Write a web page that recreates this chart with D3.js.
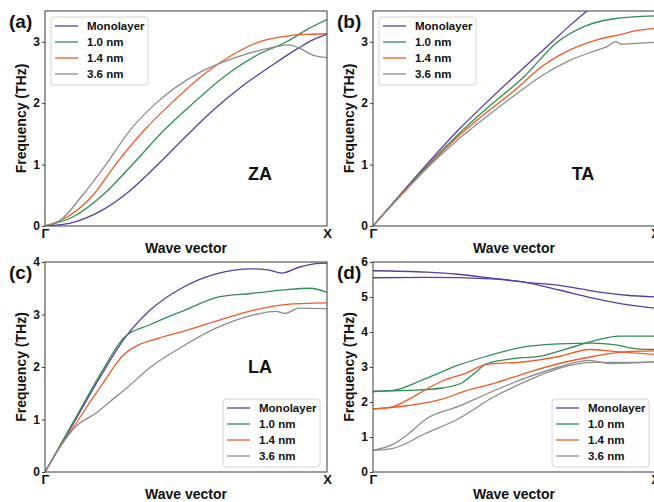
<!DOCTYPE html>
<html>
<head>
<meta charset="utf-8">
<script src="https://cdn.jsdelivr.net/npm/d3@7"></script>
<style>
  html, body { margin: 0; padding: 0; background: #fff; }
  svg { display: block; font-family: "Liberation Sans", Arial, sans-serif; }
</style>
</head>
<body>
<svg id="fig" width="654" height="502"></svg>
<script>
// Phonon dispersion of acoustic / low optical branches along Γ–X
const seriesNames = ["Monolayer", "1.0 nm", "1.4 nm", "3.6 nm"];
const seriesColors = ["#5b3c9f", "#2f8e50", "#f05a28", "#8c8c8c"];
const kLabels = ["Γ", "X"];

// (a) ZA branch: [q, frequency THz]
const zaMono = [[0,0],[0.1,0.06],[0.2,0.25],[0.3,0.57],[0.4,1.0],[0.5,1.46],[0.6,1.9],[0.7,2.28],[0.8,2.6],[0.9,2.9],[0.95,3.03],[1,3.12]];
const za10   = [[0,0],[0.1,0.15],[0.204,0.5],[0.31,1.0],[0.42,1.55],[0.525,2.0],[0.655,2.5],[0.76,2.8],[0.857,3.0],[0.93,3.2],[1,3.36]];
const za14   = [[0,0],[0.08,0.15],[0.17,0.5],[0.25,1.0],[0.35,1.55],[0.448,2.0],[0.572,2.5],[0.67,2.8],[0.762,3.0],[0.87,3.1],[0.93,3.12],[1,3.13]];
const za36   = [[0,0],[0.05,0.08],[0.133,0.5],[0.216,1.0],[0.3,1.55],[0.394,2.0],[0.549,2.5],[0.68,2.75],[0.8,2.9],[0.865,2.95],[0.9,2.9],[0.95,2.78],[1,2.74]];

// (b) TA branch
const taMono = [[0,0],[0.1,0.53],[0.2,1.05],[0.3,1.55],[0.4,2.0],[0.5,2.43],[0.6,2.85],[0.7,3.27],[0.8,3.66]];
const ta10   = [[0,0],[0.1,0.52],[0.2,1.02],[0.3,1.48],[0.4,1.9],[0.54,2.45],[0.65,2.98],[0.75,3.25],[0.85,3.37],[1,3.42]];
const ta14   = [[0,0],[0.1,0.51],[0.2,1.0],[0.3,1.45],[0.4,1.84],[0.5,2.2],[0.6,2.6],[0.7,2.87],[0.8,3.04],[0.88,3.12],[0.92,3.17],[1,3.22]];
const ta36   = [[0,0],[0.1,0.5],[0.2,0.98],[0.3,1.4],[0.4,1.77],[0.5,2.12],[0.6,2.45],[0.7,2.7],[0.8,2.87],[0.83,2.92],[0.86,3.0],[0.88,2.96],[0.92,2.97],[1,2.99]];

// (c) LA branch
const laMono = [[0,0],[0.1,0.92],[0.2,1.85],[0.28,2.53],[0.37,3.07],[0.49,3.52],[0.61,3.78],[0.73,3.87],[0.79,3.85],[0.84,3.79],[0.9,3.9],[0.96,3.97],[1,3.98]];
const la10   = [[0,0],[0.1,0.95],[0.2,1.9],[0.28,2.56],[0.37,2.8],[0.49,3.07],[0.62,3.34],[0.73,3.4],[0.85,3.47],[0.94,3.5],[1,3.42]];
const la14   = [[0,0],[0.05,0.45],[0.1,0.85],[0.2,1.65],[0.28,2.24],[0.41,2.56],[0.49,2.68],[0.61,2.88],[0.73,3.07],[0.85,3.19],[1,3.22]];
const la36   = [[0,0],[0.05,0.45],[0.11,0.87],[0.18,1.12],[0.23,1.34],[0.29,1.6],[0.37,1.98],[0.49,2.4],[0.61,2.75],[0.73,2.98],[0.82,3.06],[0.85,3.02],[0.9,3.12],[1,3.11]];

// (d) low-lying optical branches, two per structure
const opMonoA = [[0,5.75],[0.19,5.71],[0.3,5.65],[0.42,5.54],[0.54,5.42],[0.66,5.2],[0.78,4.97],[0.9,4.78],[1,4.68]];
const opMonoB = [[0,5.55],[0.19,5.56],[0.42,5.52],[0.54,5.42],[0.66,5.33],[0.78,5.17],[0.9,5.05],[1,5.0]];
const op10A   = [[0,2.3],[0.07,2.33],[0.186,2.67],[0.305,3.06],[0.4,3.3],[0.54,3.58],[0.66,3.66],[0.78,3.68],[0.86,3.63],[0.944,3.51],[1,3.5]];
const op10B   = [[0,2.3],[0.127,2.33],[0.245,2.4],[0.316,2.55],[0.364,2.85],[0.4,3.08],[0.48,3.22],[0.6,3.32],[0.72,3.6],[0.8,3.78],[0.87,3.88],[1,3.88]];
const op14A   = [[0,1.8],[0.068,1.86],[0.127,2.08],[0.186,2.35],[0.245,2.6],[0.328,2.82],[0.4,3.07],[0.54,3.15],[0.66,3.3],[0.767,3.5],[0.86,3.44],[1,3.36]];
const op14B   = [[0,1.8],[0.127,1.9],[0.245,2.08],[0.328,2.32],[0.423,2.52],[0.54,2.82],[0.66,3.1],[0.78,3.3],[0.9,3.44],[1,3.46]];
const op36A   = [[0,0.62],[0.068,0.78],[0.127,1.1],[0.186,1.5],[0.305,1.88],[0.423,2.3],[0.54,2.68],[0.66,3.0],[0.767,3.19],[0.84,3.1],[1,3.15]];
const op36B   = [[0,0.62],[0.068,0.67],[0.186,1.1],[0.305,1.53],[0.423,2.12],[0.54,2.58],[0.66,2.96],[0.78,3.13],[0.9,3.13],[1,3.15]];

const panels = [
  { tag: "(a)", mode: "ZA", yMax: 3.5, yTicks: [0,1,2,3], legend: "top-left",
    curves: [[zaMono,0],[za10,1],[za14,2],[za36,3]],
    box: { left: 45, right: 327, top: 11, bottom: 226 }, modePos: [260, 180] },
  { tag: "(b)", mode: "TA", yMax: 3.5, yTicks: [0,1,2,3], legend: "top-left",
    curves: [[taMono,0],[ta10,1],[ta14,2],[ta36,3]],
    box: { left: 373, right: 655, top: 11, bottom: 226 }, modePos: [583, 180] },
  { tag: "(c)", mode: "LA", yMax: 4, yTicks: [0,1,2,3,4], legend: "bottom-right",
    curves: [[laMono,0],[la10,1],[la14,2],[la36,3]],
    box: { left: 45, right: 327, top: 262, bottom: 472 }, modePos: [260, 373] },
  { tag: "(d)", mode: "", yMax: 6, yTicks: [0,1,2,3,4,5,6], legend: "bottom-right",
    curves: [[opMonoA,0],[opMonoB,0],[op10A,1],[op10B,1],[op14A,2],[op14B,2],[op36A,3],[op36B,3]],
    box: { left: 373, right: 655, top: 262, bottom: 472 }, modePos: [0, 0] }
];

const svg = d3.select("#fig");
const axisColor = "#3a3a3a";

panels.forEach((p, i) => {
  const b = p.box;
  const x = d3.scaleLinear().domain([0, 1]).range([b.left, b.right]);
  const y = d3.scaleLinear().domain([0, p.yMax]).range([b.bottom, b.top]);
  const g = svg.append("g");

  const clipId = "clip" + i;
  g.append("clipPath").attr("id", clipId)
    .append("rect").attr("x", b.left).attr("y", b.top)
    .attr("width", b.right - b.left).attr("height", b.bottom - b.top);

  const line = d3.line().x(d => x(d[0])).y(d => y(d[1])).curve(d3.curveMonotoneX);
  const lines = g.append("g").attr("clip-path", `url(#${clipId})`);
  p.curves.forEach(([data, s]) => {
    lines.append("path").attr("d", line(data))
      .attr("fill", "none").attr("stroke", seriesColors[s]).attr("stroke-width", 1.3);
  });

  // frame
  g.append("rect").attr("x", b.left).attr("y", b.top)
    .attr("width", b.right - b.left).attr("height", b.bottom - b.top)
    .attr("fill", "none").attr("stroke", axisColor).attr("stroke-width", 1);

  // y axis
  const yAxis = g.append("g").attr("transform", `translate(${b.left},0)`)
    .call(d3.axisLeft(y).tickValues(p.yTicks).tickFormat(d3.format("d")).tickSize(3).tickPadding(2));
  yAxis.select(".domain").remove();
  yAxis.selectAll("line").attr("stroke", axisColor);
  yAxis.selectAll("text").attr("font-size", 12).attr("font-weight", "bold")
    .attr("fill", "#111").attr("font-family", "Liberation Sans, Arial, sans-serif");

  // x axis: Γ and X
  const xAxis = g.append("g").attr("transform", `translate(0,${b.bottom})`)
    .call(d3.axisBottom(x).tickValues([0, 1]).tickFormat((d, j) => kLabels[j]).tickSize(0).tickPadding(3));
  xAxis.select(".domain").remove();
  xAxis.selectAll("text").attr("font-size", 13).attr("font-weight", "bold")
    .attr("fill", "#111").attr("font-family", "Liberation Sans, Arial, sans-serif");

  // axis titles
  g.append("text").attr("x", b.left + 141).attr("y", b.bottom + 27)
    .attr("text-anchor", "middle").attr("font-size", 14).attr("font-weight", "bold")
    .attr("fill", "#111").text("Wave vector");
  g.append("text")
    .attr("transform", `translate(${b.left - 19},${(b.top + b.bottom) / 2}) rotate(-90)`)
    .attr("text-anchor", "middle").attr("font-size", 14).attr("font-weight", "bold")
    .attr("fill", "#111").text("Frequency (THz)");

  // panel tag
  g.append("text").attr("x", b.left - 36).attr("y", b.top + 17)
    .attr("font-size", 19).attr("font-weight", "bold").attr("fill", "#111").text(p.tag);

  // branch label
  if (p.mode) {
    g.append("text").attr("x", p.modePos[0]).attr("y", p.modePos[1])
      .attr("text-anchor", "middle").attr("font-size", 18).attr("font-weight", "bold")
      .attr("fill", "#111").text(p.mode);
  }

  // legend
  const lw = 97, lh = 68;
  const lx = p.legend === "top-left" ? b.left + 6 : (i === 2 ? 223 : 552);
  const ly = p.legend === "top-left" ? b.top + 6 : b.bottom - lh - 5;
  const leg = g.append("g").attr("transform", `translate(${lx},${ly})`);
  leg.append("rect").attr("width", lw).attr("height", lh).attr("rx", 3)
    .attr("fill", "#fff").attr("fill-opacity", 0.9).attr("stroke", "#d4d4d4");
  seriesNames.forEach((name, k) => {
    const ry = 9 + k * 16;
    leg.append("line").attr("x1", 4).attr("x2", 27).attr("y1", ry).attr("y2", ry)
      .attr("stroke", seriesColors[k]).attr("stroke-width", 1.3);
    leg.append("text").attr("x", 36).attr("y", ry + 4)
      .attr("font-size", 11.5).attr("font-weight", "bold").attr("fill", "#111").text(name);
  });
});
</script>
</body>
</html>
